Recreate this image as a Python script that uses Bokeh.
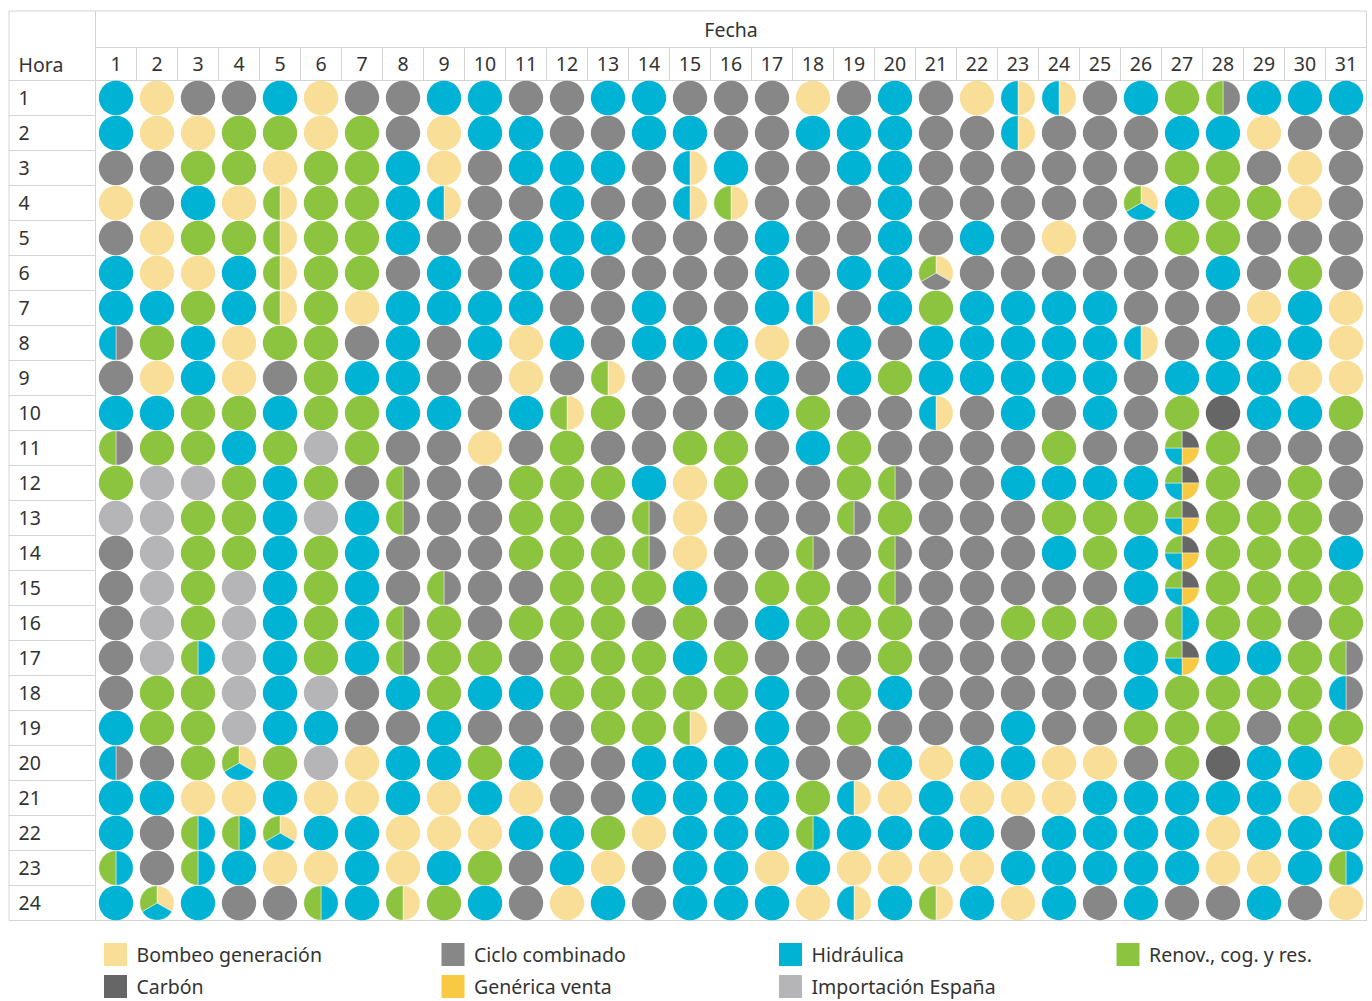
import math
from bokeh.plotting import figure
from bokeh.models import Range1d, ColumnDataSource
from bokeh.core.properties import value
from bokeh.embed import file_html
from bokeh.resources import INLINE

# ---------------- data ----------------
source_names = ["Bombeo generación", "Carbón", "Ciclo combinado", "Genérica venta",
                "Hidráulica", "Importación España", "Renov., cog. y res."]
source_codes = ["B", "K", "C", "G", "H", "I", "R"]
source_colors = ["#F9DE98", "#666666", "#878787", "#F8C943", "#00B2D3", "#B5B5B7", "#8CC43F"]

days = list(range(1, 32))
hours = list(range(1, 25))

# marginal technology per hour (rows) and day (columns); several letters = shared
hour_rows = [
    "H B C C H B C C  H H C C H H C C  C B C H C B BH BH  C H R CR H H H",
    "H B B R R B R C  B H H C C H H C  C H H H C C BH C  C C H H B C C",
    "C C R R B R R H  B C H H H C BH H  C C H H C C C C  C C R R C B C",
    "B C H B BR R R H  BH C C H C C BH BR  C C C H C C C C  C BHR H R R B C",
    "C B R R BR R R H  C C H H H C C C  H C C H C H C B  C C R R C C C",
    "H B B H BR R R C  H C H H C C C C  H C H H BCR C C C  C C C H C R C",
    "H H R H BR R B H  H H H C C H C C  H BH C H R H H H  H C C C B H B",
    "CH R H B R R C H  C H B H C H H H  B C H C H H H H  H BH C H H H B",
    "C B H B C R H H  C C B C BR C C H  H C H R H H H H  H C H H H B B",
    "H H R R H R R H  H C H BR R C C C  H R C C BH C H C  H C R K H H R",
    "CR R R H R I R C  C B C R C C R R  C H R C C C C R  C C KGHR R C C C",
    "R I I R H R C CR  C C R R R H B R  C C R CR C C H H  H H KGHR R C R C",
    "I I R R H I H CR  C C R R C CR B C  C C CR R C C C R  R R KGHR R R R C",
    "C I R R H R H C  C C R R R CR B C  C CR C CR C C C H  R H KGHR R R R H",
    "C I R I H R H C  CR C C R R R H C  R R C CR C C C C  C H KGHR R R R R",
    "C I R I H R H CR  R C R R R C R C  H R R R C C R R  R C HR R R C R",
    "C I HR I H R H CR  R R C R R R H R  C C C R C C C C  C H KGHR H H R CR",
    "C R R I H I C H  R H H R R R R R  H C R H C C C C  C H R R R R CH",
    "H R R I H H C C  H C C C R R BR C  H C R C C C H C  C R R R C R R",
    "CH C R BHR R I B H  H R H C C H H H  H C C H B H H B  B C R K H H B",
    "H H B B H B B H  B H B C C H H H  H R BH B H B B B  H H H H H B H",
    "H C HR HR BHR H H B  B B H H R B H H  H HR H H H H C H  H H H B H H H",
    "HR C HR H B B H B  H R C H B C H H  B H B B B B H H  H H H B B H HR",
    "H BHR H C C HR H BR  R H C B H C H H  H B BH H BR H B H  C H C C H C B",
]

# ---------------- layout helpers (pixel geometry of the table) ----------------
COL_W, ROW_H = 41, 35            # pixel size of one day column / hour row
GRID_X0, GRID_Y0 = 95, 80        # page pixel of the grid's top-left corner
FIG_X0, FIG_Y0 = 0, 0            # page pixel of the figure's top-left corner
FIG_W, FIG_H = 1372, 1001


def dx(page_x):
    return 0.5 + (page_x - GRID_X0) / COL_W


def dy(page_y):
    return 0.5 + (page_y - GRID_Y0) / ROW_H


p = figure(width=FIG_W, height=FIG_H, output_backend="svg", toolbar_location=None,
           x_axis_type=None, y_axis_type=None, min_border=0,
           x_range=Range1d(dx(FIG_X0), dx(FIG_X0 + FIG_W)),
           y_range=Range1d(dy(FIG_Y0 + FIG_H), dy(FIG_Y0)))
p.outline_line_color = None
p.grid.visible = False
p.background_fill_color = "white"
p.border_fill_color = "white"

FONT = value("Noto Sans")
TXT = "#333333"
LINE = "#D4D4D4"
FS = "19.5px"

# ---------------- table lines ----------------
left, right = dx(8.5), dx(GRID_X0 + COL_W * len(days))
top, bottom = dy(10.5), dy(GRID_Y0 + ROW_H * len(hours))
hdr_mid = dy(47)
grid_top = 0.5
segs = dict(x0=[], y0=[], x1=[], y1=[])


def seg(a, b, c, d):
    segs["x0"].append(a); segs["y0"].append(b); segs["x1"].append(c); segs["y1"].append(d)


seg(left, top, right, top)
seg(left, bottom, right, bottom)
seg(left, top, left, bottom)
seg(right, top, right, bottom)
seg(0.5, top, 0.5, bottom)
seg(0.5, hdr_mid, right, hdr_mid)
seg(left, grid_top, right, grid_top)
for d in days[:-1]:
    seg(d + 0.5, hdr_mid, d + 0.5, grid_top)
for h in hours[:-1]:
    seg(left, h + 0.5, 0.5, h + 0.5)
p.segment(x0="x0", y0="y0", x1="x1", y1="y1", source=ColumnDataSource(segs),
          line_color=LINE, line_width=1)

# ---------------- header texts ----------------
p.text(x=[(0.5 + right) / 2], y=[(top + hdr_mid) / 2], text=["Fecha"],
       text_font=FONT, text_font_size=FS, text_color=TXT,
       text_align="center", text_baseline="middle")
p.text(x=[dx(18)], y=[(hdr_mid + grid_top) / 2], text=["Hora"],
       text_font=FONT, text_font_size=FS, text_color=TXT,
       text_align="left", text_baseline="middle")
p.text(x=days, y=[(hdr_mid + grid_top) / 2] * len(days), text=[str(d) for d in days],
       text_font=FONT, text_font_size=FS, text_color=TXT,
       text_align="center", text_baseline="middle")
p.text(x=[dx(18)] * len(hours), y=hours, text=[str(h) for h in hours],
       text_font=FONT, text_font_size=FS, text_color=TXT,
       text_align="left", text_baseline="middle")

# ---------------- pies ----------------
color_of = dict(zip(source_codes, source_colors))
full = dict(x=[], y=[], c=[])
wed = dict(x=[], y=[], s=[], e=[], c=[])
for h, row in zip(hours, hour_rows):
    tokens = row.split()
    assert len(tokens) == len(days), (h, len(tokens))
    for d, tok in zip(days, tokens):
        parts = sorted(set(tok), key=source_codes.index)
        n = len(parts)
        if n == 1:
            full["x"].append(d); full["y"].append(h); full["c"].append(color_of[parts[0]])
        else:
            for k, code in enumerate(parts):
                f0, f1 = k / n, (k + 1) / n
                wed["x"].append(d); wed["y"].append(h)
                wed["s"].append(math.pi / 2 - 2 * math.pi * f1)
                wed["e"].append(math.pi / 2 - 2 * math.pi * f0)
                wed["c"].append(color_of[code])

RAD = 17.2
p.circle(x="x", y="y", radius=RAD, radius_units="screen", source=ColumnDataSource(full),
         fill_color="c", line_color=None)
p.wedge(x="x", y="y", radius=RAD, radius_units="screen", start_angle="s", end_angle="e",
        direction="anticlock", source=ColumnDataSource(wed),
        fill_color="c", line_color="white", line_width=0.7, line_alpha=0.6)

# ---------------- legend ----------------
LEG_X0, LEG_DX = 115, 337.5
LEG_Y = [954, 986]
lx, ly, lc, tx, tt = [], [], [], [], []
for i, (name, col) in enumerate(zip(source_names, source_colors)):
    ci, ri = i // 2, i % 2
    cx = LEG_X0 + ci * LEG_DX
    lx.append(dx(cx)); ly.append(dy(LEG_Y[ri])); lc.append(col)
    tx.append(dx(cx + 21)); tt.append(name)
p.scatter(x=lx, y=ly, marker="square", size=23, fill_color=lc, line_color=None)
p.text(x=tx, y=ly, text=tt, text_font=FONT, text_font_size=FS, text_color=TXT,
       text_align="left", text_baseline="middle")

html = file_html(p, INLINE)
html = html.replace("<head>", "<head><style>html,body{overflow:hidden}</style>", 1)
open("out.html", "w").write(html)
